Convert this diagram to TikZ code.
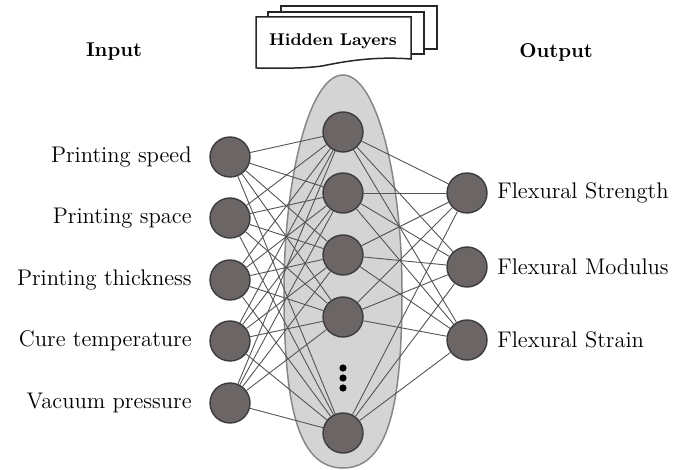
\documentclass[tikz,border=0pt]{standalone}
\usetikzlibrary{calc}
\definecolor{nodefill}{RGB}{108,101,101}
\definecolor{nodeedge}{RGB}{60,60,60}
\definecolor{ellfill}{RGB}{212,212,212}
\definecolor{elledge}{RGB}{135,135,135}
\definecolor{linkcol}{RGB}{85,85,85}
\tikzset{
  neuron/.style={circle, fill=nodefill, draw=nodeedge, line width=0.7pt, minimum size=20pt, inner sep=0pt},
  inlabel/.style={anchor=east, inner sep=0pt, font=\fontsize{11.3}{13}\selectfont},
  outlabel/.style={anchor=west, inner sep=0pt, font=\fontsize{11.3}{13}\selectfont},
  header/.style={font=\fontsize{10}{12}\selectfont\bfseries, inner sep=0pt},
  link/.style={draw=linkcol, line width=0.45pt},
  page/.style={draw=black!85, fill=white, line width=0.75pt}
}
\begin{document}
\begin{tikzpicture}[x=0.5pt, y=-0.5pt]
\useasboundingbox (0,0) rectangle (675,470);
% hidden layer envelope
\path[fill=ellfill, draw=elledge, line width=0.75pt]
  (343,75) .. controls (377,75) and (402,180) .. (402,290)
  .. controls (402,400) and (390,468) .. (343,468)
  .. controls (296,468) and (284,400) .. (284,290)
  .. controls (284,180) and (309,75) .. (343,75) -- cycle;
% stacked document box
\draw[page] (281,6) rectangle (437,49);
\draw[page] (268,12) rectangle (424,54);
\draw[page] (256,17) -- (411,17) -- (411,59)
  .. controls (372,56) and (342,62) .. (322,66)
  .. controls (300,69) and (276,68) .. (256,68) -- cycle;
\node[font=\fontsize{8.5}{10}\selectfont\bfseries, inner sep=0pt] (hl) at (333,41) {Hidden Layers};
% headers
\node[header] (hin) at (114,52) {Input};
\node[header] (hout) at (556,52) {Output};
% input neurons
\foreach \i/\y/\t in {1/157/Printing speed, 2/218/Printing space, 3/280/Printing thickness, 4/341/Cure temperature, 5/403/Vacuum pressure}{
  \node[neuron] (i\i) at (230,\y) {};
  \node[inlabel] (li\i) at (192,\y) {\t};
}
% hidden neurons
\foreach \j/\y in {1/132, 2/193, 3/255, 4/317, 5/433}{
  \node[neuron] (h\j) at (343,\y) {};
}
% dots
\foreach \k/\y in {1/368, 2/378, 3/388}{
  \node[circle, fill=black, inner sep=0pt, minimum size=3.6pt] (d\k) at (343,\y) {};
}
% output neurons
\foreach \k/\y/\t in {1/193/Flexural Strength, 2/267/Flexural Modulus, 3/340/Flexural Strain}{
  \node[neuron] (o\k) at (467,\y) {};
  \node[outlabel] (lo\k) at (497,\y) {\t};
}
% connections
\foreach \i in {1,...,5}{
  \foreach \j in {1,...,5}{
    \draw[link] (i\i) -- (h\j);
  }
}
\foreach \j in {1,...,5}{
  \foreach \k in {1,2,3}{
    \draw[link] (h\j) -- (o\k);
  }
}
\end{tikzpicture}
\end{document}
